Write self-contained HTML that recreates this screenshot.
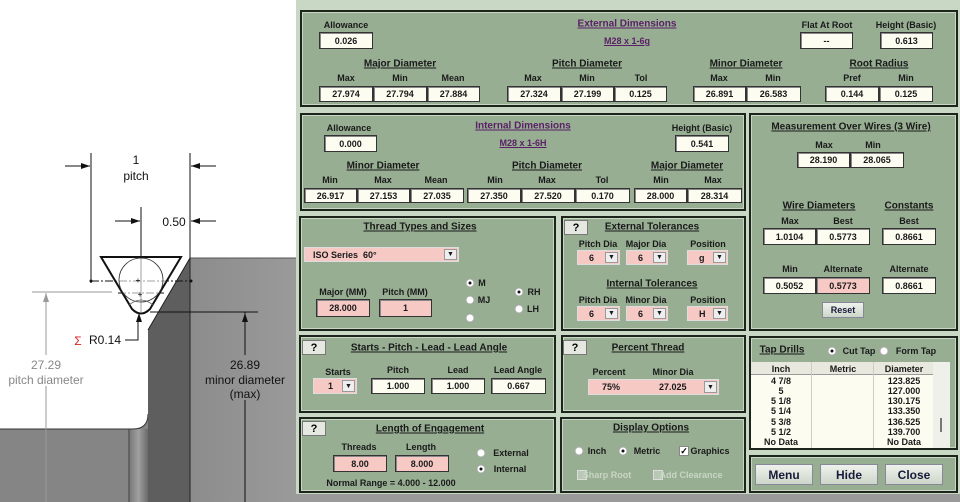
<!DOCTYPE html>
<html><head><meta charset="utf-8"><style>
*{margin:0;padding:0;box-sizing:border-box}
body{width:960px;height:502px;position:relative;overflow:hidden;background:#fff;font-family:"Liberation Sans",sans-serif}
.win{position:absolute;left:296px;top:0;width:664px;height:494px;background:#c9d7c5}
.p{position:absolute;background:#97ae93;border:2px solid #1c241c;box-shadow:inset 0 0 0 1px #c8d6c4}
.l{position:absolute;transform:translate(-50%,-50%);font:bold 9px "Liberation Sans",sans-serif;color:#1a1a1a;white-space:nowrap}
.h{position:absolute;transform:translate(-50%,-50%);font:bold 10px "Liberation Sans",sans-serif;color:#1a1a1a;text-decoration:underline;white-space:nowrap}
.pu{color:#5a1f66}
.b{position:absolute;background:#fcfcf0;border:1px solid #333;box-shadow:inset 1px 1px 0 #888;font:bold 9px "Liberation Sans",sans-serif;color:#1a1a1a;display:flex;align-items:center;justify-content:center}
.pk{background:#f6c9c5}
.dd{position:absolute;background:#f6c9c5;border:1px solid #ddd;font:bold 9px "Liberation Sans",sans-serif;color:#1a1a1a;display:flex;align-items:center}
.dd i{position:absolute;right:1px;top:1px;bottom:1px;width:13px;background:#eee;border:1px solid #999;font-style:normal;font-size:7px;display:flex;align-items:center;justify-content:center}
.q{position:absolute;width:24px;height:15px;background:#e4e8e0;border:1px solid #777;font:bold 11px "Liberation Sans",sans-serif;display:flex;align-items:center;justify-content:center}
.r{position:absolute;width:9px;height:9px;border-radius:50%;background:#fff;border:1px solid #aaa;transform:translate(-50%,-50%)}
.r.on::after{content:"";position:absolute;left:2px;top:2px;width:3px;height:3px;border-radius:50%;background:#111}
.btn{position:absolute;background:linear-gradient(#eef2ec,#cdd6ca);border:1px solid #889;font:bold 12px "Liberation Sans",sans-serif;color:#1a1a3a;display:flex;align-items:center;justify-content:center}
.ab{position:absolute}
</style></head><body>
<svg width="296" height="502" style="position:absolute;left:0;top:0" font-family="Liberation Sans, sans-serif">
<defs><linearGradient id="g1" x1="0" x2="1"><stop offset="0" stop-color="#8c8c8c"/><stop offset="1" stop-color="#9a9a9a"/></linearGradient>
<linearGradient id="g2" x1="0" x2="1"><stop offset="0" stop-color="#777"/><stop offset="0.5" stop-color="#a0a0a0"/><stop offset="1" stop-color="#6a6a6a"/></linearGradient></defs>
<path d="M0 429 H133 Q148 429 148 414 V502 H0Z" fill="#858585"/>
<rect x="129" y="429" width="19" height="73" fill="url(#g2)"/>
<line x1="129" y1="429" x2="129" y2="502" stroke="#444"/>
<path d="M0 429 H133 Q148 429 148 414" fill="none" stroke="#333"/>
<path d="M190 258 L148 330 V502 H190Z" fill="#5e5e5e"/>
<rect x="190" y="258" width="106" height="244" fill="url(#g1)"/>
<line x1="190" y1="258" x2="190" y2="502" stroke="#222"/>
<line x1="190" y1="258" x2="296" y2="258" stroke="#555"/>
<line x1="190" y1="258" x2="148" y2="330" stroke="#222"/>
<g stroke="#111" stroke-width="1">
<line x1="91" y1="153" x2="91" y2="283"/><line x1="190" y1="153" x2="190" y2="258"/>
<line x1="65" y1="166" x2="90" y2="166"/><line x1="191" y1="166" x2="216" y2="166"/>
<line x1="115" y1="221" x2="140" y2="221"/><line x1="191" y1="221" x2="216" y2="221"/>
<line x1="141" y1="207" x2="141" y2="312"/>
<line x1="91" y1="281" x2="191" y2="281" stroke-dasharray="8 2 2 2"/>
<line x1="118" y1="293" x2="164" y2="293" stroke-dasharray="8 2 2 2"/>
<line x1="150" y1="312" x2="258" y2="312"/>
<line x1="245" y1="312" x2="245" y2="355"/><line x1="245" y1="400" x2="245" y2="502"/>
<polyline points="125,340 138,340 138,318" fill="none"/>
</g>
<g fill="#111"><path d="M90 166 l-9 -3 v6z"/><path d="M191 166 l9 -3 v6z"/><path d="M140 221 l-9 -3 v6z"/><path d="M191 221 l9 -3 v6z"/>
<path d="M245 313 l-3 9 h6z"/><path d="M139 313 l-3 9 h6z"/><circle cx="91" cy="281" r="1.5"/><circle cx="191" cy="281" r="1.5"/></g>
<path d="M101 257 H181 L150 309 Q141 318 132 309 Z" fill="#fff" fill-opacity="0.6" stroke="#111" stroke-width="2"/>
<circle cx="141" cy="280" r="22" fill="none" stroke="#333" stroke-width="0.8"/>
<path d="M129 305 Q141 295 153 305" fill="none" stroke="#555" stroke-width="0.8"/>
<text x="138" y="283" font-size="8" text-anchor="middle">+</text><text x="140" y="297" font-size="8" text-anchor="middle">+</text>
<g stroke="#999"><line x1="32" y1="292" x2="112" y2="292"/><line x1="46" y1="293" x2="46" y2="355"/><line x1="46" y1="386" x2="46" y2="502"/></g>
<path d="M46 293 l-3 9 h6z" fill="#999"/>
<g font-size="12" fill="#111" text-anchor="middle">
<text x="136" y="164">1</text><text x="136" y="180">pitch</text>
<text x="174" y="226" text-anchor="middle">0.50</text>
<text x="105" y="344">R0.14</text>
<text x="245" y="369">26.89</text><text x="245" y="384">minor diameter</text><text x="245" y="398">(max)</text>
<text x="46" y="369" fill="#888">27.29</text><text x="46" y="384" fill="#888">pitch diameter</text>
</g>
<text x="78" y="345" font-size="12" fill="#d22" text-anchor="middle">Σ</text>
</svg>
<div class="win"></div>

<!-- External dims -->
<div class="p" style="left:300px;top:10px;width:658px;height:97px"></div>
<div class="l" style="left:346px;top:25px">Allowance</div>
<div class="b" style="left:319px;top:32px;width:54px;height:17px">0.026</div>
<div class="h pu" style="left:627px;top:24px">External Dimensions</div>
<div class="l pu" style="left:627px;top:41px;text-decoration:underline">M28 x 1-6g</div>
<div class="l" style="left:827px;top:25px">Flat At Root</div>
<div class="b" style="left:800px;top:32px;width:53px;height:17px">--</div>
<div class="l" style="left:906px;top:25px">Height (Basic)</div>
<div class="b" style="left:880px;top:32px;width:53px;height:17px">0.613</div>
<div class="h" style="left:400px;top:64px">Major Diameter</div>
<div class="h" style="left:587px;top:64px">Pitch Diameter</div>
<div class="h" style="left:746px;top:64px">Minor Diameter</div>
<div class="h" style="left:879px;top:64px">Root Radius</div>
<div class="l" style="left:346px;top:78px">Max</div><div class="l" style="left:400px;top:78px">Min</div><div class="l" style="left:453px;top:78px">Mean</div>
<div class="l" style="left:533px;top:78px">Max</div><div class="l" style="left:587px;top:78px">Min</div><div class="l" style="left:641px;top:78px">Tol</div>
<div class="l" style="left:719px;top:78px">Max</div><div class="l" style="left:773px;top:78px">Min</div>
<div class="l" style="left:852px;top:78px">Pref</div><div class="l" style="left:906px;top:78px">Min</div>
<div class="b" style="left:319px;top:86px;width:54px;height:16px">27.974</div>
<div class="b" style="left:373px;top:86px;width:54px;height:16px">27.794</div>
<div class="b" style="left:427px;top:86px;width:53px;height:16px">27.884</div>
<div class="b" style="left:507px;top:86px;width:54px;height:16px">27.324</div>
<div class="b" style="left:561px;top:86px;width:53px;height:16px">27.199</div>
<div class="b" style="left:614px;top:86px;width:53px;height:16px">0.125</div>
<div class="b" style="left:693px;top:86px;width:53px;height:16px">26.891</div>
<div class="b" style="left:746px;top:86px;width:55px;height:16px">26.583</div>
<div class="b" style="left:825px;top:86px;width:54px;height:16px">0.144</div>
<div class="b" style="left:879px;top:86px;width:54px;height:16px">0.125</div>

<!-- Internal dims -->
<div class="p" style="left:300px;top:113px;width:446px;height:98px"></div>
<div class="l" style="left:349px;top:128px">Allowance</div>
<div class="b" style="left:324px;top:135px;width:53px;height:17px">0.000</div>
<div class="h pu" style="left:523px;top:126px">Internal Dimensions</div>
<div class="l pu" style="left:523px;top:143px;text-decoration:underline">M28 x 1-6H</div>
<div class="l" style="left:702px;top:128px">Height (Basic)</div>
<div class="b" style="left:675px;top:135px;width:54px;height:17px">0.541</div>
<div class="h" style="left:383px;top:166px">Minor Diameter</div>
<div class="h" style="left:547px;top:166px">Pitch Diameter</div>
<div class="h" style="left:687px;top:166px">Major Diameter</div>
<div class="l" style="left:330px;top:180px">Min</div><div class="l" style="left:383px;top:180px">Max</div><div class="l" style="left:436px;top:180px">Mean</div>
<div class="l" style="left:495px;top:180px">Min</div><div class="l" style="left:547px;top:180px">Max</div><div class="l" style="left:602px;top:180px">Tol</div>
<div class="l" style="left:661px;top:180px">Min</div><div class="l" style="left:713px;top:180px">Max</div>
<div class="b" style="left:304px;top:188px;width:53px;height:15px">26.917</div>
<div class="b" style="left:357px;top:188px;width:53px;height:15px">27.153</div>
<div class="b" style="left:410px;top:188px;width:54px;height:15px">27.035</div>
<div class="b" style="left:467px;top:188px;width:54px;height:15px">27.350</div>
<div class="b" style="left:521px;top:188px;width:54px;height:15px">27.520</div>
<div class="b" style="left:575px;top:188px;width:55px;height:15px">0.170</div>
<div class="b" style="left:634px;top:188px;width:53px;height:15px">28.000</div>
<div class="b" style="left:687px;top:188px;width:55px;height:15px">28.314</div>

<!-- Wires -->
<div class="p" style="left:749px;top:113px;width:209px;height:218px"></div>
<div class="h" style="left:851px;top:127px">Measurement Over Wires (3 Wire)</div>
<div class="l" style="left:824px;top:145px">Max</div><div class="l" style="left:873px;top:145px">Min</div>
<div class="b" style="left:797px;top:152px;width:53px;height:16px">28.190</div>
<div class="b" style="left:850px;top:152px;width:54px;height:16px">28.065</div>
<div class="h" style="left:819px;top:206px">Wire Diameters</div>
<div class="h" style="left:909px;top:206px">Constants</div>
<div class="l" style="left:790px;top:221px">Max</div><div class="l" style="left:843px;top:221px">Best</div><div class="l" style="left:909px;top:221px">Best</div>
<div class="b" style="left:763px;top:228px;width:53px;height:17px">1.0104</div>
<div class="b" style="left:816px;top:228px;width:54px;height:17px">0.5773</div>
<div class="b" style="left:882px;top:228px;width:54px;height:17px">0.8661</div>
<div class="l" style="left:790px;top:269px">Min</div><div class="l" style="left:843px;top:269px">Alternate</div><div class="l" style="left:909px;top:269px">Alternate</div>
<div class="b" style="left:763px;top:277px;width:53px;height:17px">0.5052</div>
<div class="b pk" style="left:816px;top:277px;width:54px;height:17px">0.5773</div>
<div class="b" style="left:882px;top:277px;width:54px;height:17px">0.8661</div>
<div class="btn" style="left:822px;top:302px;width:42px;height:16px;font-size:9px">Reset</div>

<!-- Thread types -->
<div class="p" style="left:299px;top:216px;width:257px;height:115px"></div>
<div class="h" style="left:420px;top:227px">Thread Types and Sizes</div>
<div class="dd" style="left:304px;top:247px;width:155px;height:15px;padding-left:8px">ISO Series&nbsp;&nbsp;60°<i>▼</i></div>
<div class="l" style="left:343px;top:292px">Major (MM)</div><div class="l" style="left:405px;top:292px">Pitch (MM)</div>
<div class="b pk" style="left:316px;top:299px;width:54px;height:18px">28.000</div>
<div class="b pk" style="left:379px;top:299px;width:53px;height:18px">1</div>
<div class="r on" style="left:470px;top:283px"></div><div class="l" style="left:482px;top:283px">M</div>
<div class="r" style="left:470px;top:300px"></div><div class="l" style="left:484px;top:300px">MJ</div>
<div class="r" style="left:470px;top:318px"></div>
<div class="r on" style="left:519px;top:292px"></div><div class="l" style="left:534px;top:292px">RH</div>
<div class="r" style="left:519px;top:309px"></div><div class="l" style="left:533px;top:309px">LH</div>

<!-- Ext tol -->
<div class="p" style="left:561px;top:216px;width:185px;height:115px"></div>
<div class="q" style="left:564px;top:220px">?</div>
<div class="h" style="left:652px;top:227px">External Tolerances</div>
<div class="l" style="left:598px;top:244px">Pitch Dia</div><div class="l" style="left:646px;top:244px">Major Dia</div><div class="l" style="left:708px;top:244px">Position</div>
<div class="dd" style="left:577px;top:250px;width:43px;height:15px;padding-left:11px">6<i>▼</i></div>
<div class="dd" style="left:626px;top:250px;width:42px;height:15px;padding-left:11px">6<i>▼</i></div>
<div class="dd" style="left:687px;top:250px;width:41px;height:15px;padding-left:11px">g<i>▼</i></div>
<div class="h" style="left:652px;top:284px">Internal Tolerances</div>
<div class="l" style="left:598px;top:300px">Pitch Dia</div><div class="l" style="left:646px;top:300px">Minor Dia</div><div class="l" style="left:708px;top:300px">Position</div>
<div class="dd" style="left:577px;top:306px;width:43px;height:15px;padding-left:11px">6<i>▼</i></div>
<div class="dd" style="left:626px;top:306px;width:42px;height:15px;padding-left:11px">6<i>▼</i></div>
<div class="dd" style="left:687px;top:306px;width:41px;height:15px;padding-left:11px">H<i>▼</i></div>

<!-- Starts -->
<div class="p" style="left:299px;top:335px;width:257px;height:78px"></div>
<div class="q" style="left:302px;top:340px">?</div>
<div class="h" style="left:429px;top:348px">Starts - Pitch - Lead - Lead Angle</div>
<div class="l" style="left:338px;top:372px">Starts</div><div class="l" style="left:398px;top:370px">Pitch</div><div class="l" style="left:458px;top:370px">Lead</div><div class="l" style="left:518px;top:370px">Lead Angle</div>
<div class="dd" style="left:313px;top:378px;width:44px;height:16px;padding-left:14px">1<i>▼</i></div>
<div class="b" style="left:371px;top:378px;width:54px;height:16px">1.000</div>
<div class="b" style="left:431px;top:378px;width:54px;height:16px">1.000</div>
<div class="b" style="left:491px;top:378px;width:55px;height:16px">0.667</div>

<!-- Percent -->
<div class="p" style="left:561px;top:335px;width:185px;height:78px"></div>
<div class="q" style="left:563px;top:340px">?</div>
<div class="h" style="left:648px;top:348px">Percent Thread</div>
<div class="l" style="left:609px;top:372px">Percent</div><div class="l" style="left:673px;top:372px">Minor Dia</div>
<div class="dd" style="left:588px;top:379px;width:131px;height:16px;padding-left:13px">75%<span style="position:absolute;left:70px">27.025</span><i>▼</i></div>

<!-- Length -->
<div class="p" style="left:299px;top:417px;width:257px;height:76px"></div>
<div class="q" style="left:302px;top:421px">?</div>
<div class="h" style="left:430px;top:429px">Length of Engagement</div>
<div class="l" style="left:359px;top:447px">Threads</div><div class="l" style="left:421px;top:447px">Length</div>
<div class="b pk" style="left:333px;top:455px;width:54px;height:17px">8.00</div>
<div class="b pk" style="left:395px;top:455px;width:54px;height:17px">8.000</div>
<div class="r" style="left:481px;top:453px"></div><div class="l" style="left:511px;top:453px">External</div>
<div class="r on" style="left:481px;top:469px"></div><div class="l" style="left:510px;top:469px">Internal</div>
<div class="l" style="left:391px;top:483px">Normal Range = 4.000 - 12.000</div>

<!-- Display -->
<div class="p" style="left:560px;top:417px;width:186px;height:76px"></div>
<div class="h" style="left:651px;top:428px">Display Options</div>
<div class="r" style="left:579px;top:451px"></div><div class="l" style="left:597px;top:451px">Inch</div>
<div class="r on" style="left:623px;top:451px"></div><div class="l" style="left:647px;top:451px">Metric</div>
<div class="ab" style="left:679px;top:446px;width:10px;height:10px;background:#fff;border:1px solid #888;font:bold 9px sans-serif;line-height:9px;text-align:center">✓</div>
<div class="l" style="left:710px;top:451px">Graphics</div>
<div class="ab" style="left:577px;top:470px;width:10px;height:10px;background:#b8c8b4;border:1px solid #ddd"></div>
<div class="l" style="left:607px;top:475px;color:#c8d6c4">Sharp Root</div>
<div class="ab" style="left:653px;top:470px;width:10px;height:10px;background:#b8c8b4;border:1px solid #ddd"></div>
<div class="l" style="left:691px;top:475px;color:#c8d6c4">Add Clearance</div>

<!-- Tap drills -->
<div class="p" style="left:749px;top:336px;width:209px;height:114px"></div>
<div class="h" style="left:782px;top:350px">Tap Drills</div>
<div class="r on" style="left:832px;top:351px"></div><div class="l" style="left:859px;top:351px">Cut Tap</div>
<div class="r" style="left:884px;top:351px"></div><div class="l" style="left:916px;top:351px">Form Tap</div>
<div class="ab" style="left:751px;top:362px;width:199px;height:86px;background:#fcfcf0"></div>
<div class="ab" style="left:751px;top:362px;width:182px;height:13px;background:#e8e8de;border-bottom:1px solid #999"></div>
<div class="ab" style="left:811px;top:362px;width:1px;height:86px;background:#ccc"></div>
<div class="ab" style="left:873px;top:362px;width:1px;height:86px;background:#ccc"></div>
<div class="ab" style="left:933px;top:362px;width:17px;height:86px;background:#f0f0ea"></div>
<div class="ab" style="left:940px;top:418px;width:2px;height:14px;background:#777"></div>
<div class="l" style="left:781px;top:369px">Inch</div><div class="l" style="left:843px;top:369px">Metric</div><div class="l" style="left:904px;top:369px">Diameter</div>
<div class="l" style="left:781px;top:381px">4 7/8</div><div class="l" style="left:904px;top:381px">123.825</div>
<div class="l" style="left:781px;top:391px">5</div><div class="l" style="left:904px;top:391px">127.000</div>
<div class="l" style="left:781px;top:401px">5 1/8</div><div class="l" style="left:904px;top:401px">130.175</div>
<div class="l" style="left:781px;top:411px">5 1/4</div><div class="l" style="left:904px;top:411px">133.350</div>
<div class="l" style="left:781px;top:422px">5 3/8</div><div class="l" style="left:904px;top:422px">136.525</div>
<div class="l" style="left:781px;top:432px">5 1/2</div><div class="l" style="left:904px;top:432px">139.700</div>
<div class="l" style="left:781px;top:442px">No Data</div><div class="l" style="left:904px;top:442px">No Data</div>

<!-- Buttons -->
<div class="p" style="left:749px;top:455px;width:209px;height:38px"></div>
<div class="btn" style="left:755px;top:464px;width:58px;height:21px">Menu</div>
<div class="btn" style="left:820px;top:464px;width:58px;height:21px">Hide</div>
<div class="btn" style="left:885px;top:464px;width:58px;height:21px">Close</div>
<div class="ab" style="left:296px;top:494px;width:664px;height:8px;background:#9a9a9a"></div>
</body></html>
